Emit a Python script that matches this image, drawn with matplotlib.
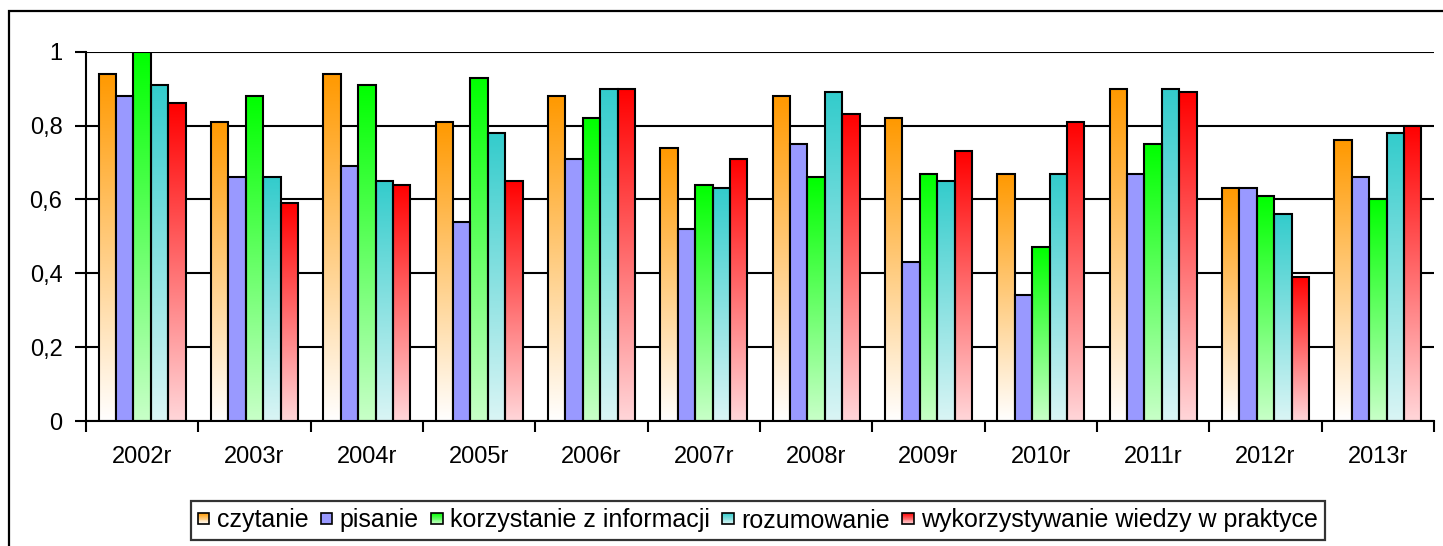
import numpy as np
import matplotlib
matplotlib.use("Agg")
import matplotlib.pyplot as plt
from matplotlib.patches import Rectangle
from matplotlib.legend_handler import HandlerBase
from matplotlib.colors import to_rgb

plt.rcParams['font.family'] = ['Liberation Sans', 'DejaVu Sans']

categories = ["2002r", "2003r", "2004r", "2005r", "2006r", "2007r",
              "2008r", "2009r", "2010r", "2011r", "2012r", "2013r"]
series_names = ["czytanie", "pisanie", "korzystanie z informacji",
                "rozumowanie", "wykorzystywanie wiedzy w praktyce"]
czytanie = [0.94, 0.81, 0.94, 0.81, 0.88, 0.74, 0.88, 0.82, 0.67, 0.90, 0.63, 0.76]
pisanie = [0.88, 0.66, 0.69, 0.54, 0.71, 0.52, 0.75, 0.43, 0.34, 0.67, 0.63, 0.66]
korzystanie = [1.00, 0.88, 0.91, 0.93, 0.82, 0.64, 0.66, 0.67, 0.47, 0.75, 0.61, 0.60]
rozumowanie = [0.91, 0.66, 0.65, 0.78, 0.90, 0.63, 0.89, 0.65, 0.67, 0.90, 0.56, 0.78]
wykorzystywanie = [0.86, 0.59, 0.64, 0.65, 0.90, 0.71, 0.83, 0.73, 0.81, 0.89, 0.39, 0.80]
series = [czytanie, pisanie, korzystanie, rozumowanie, wykorzystywanie]
y_ticks = [0, 0.2, 0.4, 0.6, 0.8, 1.0]
y_labels = ["0", "0,2", "0,4", "0,6", "0,8", "1"]

# (top colour, bottom colour)
grads = [("#FF9900", "#FFFFFF"),
         ("#9999FF", "#9999FF"),
         ("#00FF00", "#C8FFC8"),
         ("#33CCCC", "#DAF5F5"),
         ("#FF0000", "#FFD6D9")]

W, H = 1443, 546
fig = plt.figure(figsize=(W / 100, H / 100), dpi=100)
fig.patch.set_facecolor("white")

# outer chart border (top and left visible)
fig.add_artist(Rectangle((9 / W, -0.1), 1.2, (H - 11) / H + 0.1,
                         transform=fig.transFigure, fill=False,
                         edgecolor="black", lw=1.6))

ax_l, ax_r, ax_t, ax_b = 86, 1434, 51.7, 421
ax = fig.add_axes([ax_l / W, (H - ax_b) / H, (ax_r - ax_l) / W, (ax_b - ax_t) / H])

n = len(categories)
x = np.arange(n)
bw = 0.155


def grad_img(top, bot, steps=256):
    t = np.linspace(0, 1, steps)[:, None]  # 0 at top row
    c1 = np.array(to_rgb(top))
    c2 = np.array(to_rgb(bot))
    img = c1[None, None, :] * (1 - t[:, :, None]) + c2[None, None, :] * t[:, :, None]
    return img


for i, vals in enumerate(series):
    top, bot = grads[i]
    pos = x + (i - 2) * bw
    bars = ax.bar(pos, vals, bw, facecolor=top if top == bot else "none",
                  edgecolor="black", linewidth=1.5, zorder=3)
    if top != bot:
        img = grad_img(top, bot)
        for b in bars:
            x0 = b.get_x()
            h = b.get_height()
            im = ax.imshow(img, extent=[x0, x0 + b.get_width(), 0, h],
                           aspect="auto", origin="upper", zorder=2.5,
                           interpolation="bilinear")
            im.set_clip_path(b)

ax.set_xlim(-0.5, n - 0.5)
ax.set_ylim(0, 1.0)

ax.set_yticks(y_ticks)
ax.set_yticklabels(y_labels)
ax.yaxis.grid(True, color="black", linewidth=1.5, zorder=0)
ax.set_axisbelow(True)

ax.set_xticks(np.arange(n + 1) - 0.5)
ax.set_xticklabels([])
ax.set_xticks(x, minor=True)
ax.set_xticklabels(categories, minor=True)
ax.tick_params(axis="x", which="major", length=8, width=1.5, direction="out")
ax.tick_params(axis="x", which="minor", length=0, pad=18, labelsize=17)
ax.tick_params(axis="y", length=8, width=1.5, direction="out", pad=9, labelsize=17)

for s in ["top", "right"]:
    ax.spines[s].set_visible(False)
for s in ["left", "bottom"]:
    ax.spines[s].set_linewidth(1.5)


class GradHandler(HandlerBase):
    def __init__(self, top, bot, **kw):
        super().__init__(**kw)
        self.top, self.bot = top, bot

    def create_artists(self, legend, orig_handle, xdescent, ydescent,
                       width, height, fontsize, trans):
        arts = []
        steps = 12
        c1 = np.array(to_rgb(self.top))
        c2 = np.array(to_rgb(self.bot))
        side = min(width, height)
        x0 = -xdescent + (width - side) / 2
        y0 = -ydescent + (height - side) / 2
        for k in range(steps):
            t = (k + 0.5) / steps
            col = c1 * (1 - t) + c2 * t
            yk = y0 + side * (1 - (k + 1) / steps)
            arts.append(Rectangle((x0, yk), side, side / steps, facecolor=col,
                                  edgecolor="none", transform=trans))
        arts.append(Rectangle((x0, y0), side, side, facecolor="none",
                              edgecolor="black", lw=1.2, transform=trans))
        return arts


handles = [Rectangle((0, 0), 1, 1) for _ in series_names]
hmap = {h: GradHandler(*grads[i]) for i, h in enumerate(handles)}
leg = fig.legend(handles, series_names, handler_map=hmap, loc="center",
                 bbox_to_anchor=(758 / W, (H - 520.5) / H), ncol=5,
                 fontsize=18, frameon=True, fancybox=False, shadow=False,
                 handlelength=0.45, handleheight=0.45, handletextpad=0.3,
                 columnspacing=0.5, borderpad=0.3, borderaxespad=0)
leg.get_frame().set_edgecolor("black")
leg.get_frame().set_linewidth(1.6)

fig.savefig("out.png", dpi=100)
